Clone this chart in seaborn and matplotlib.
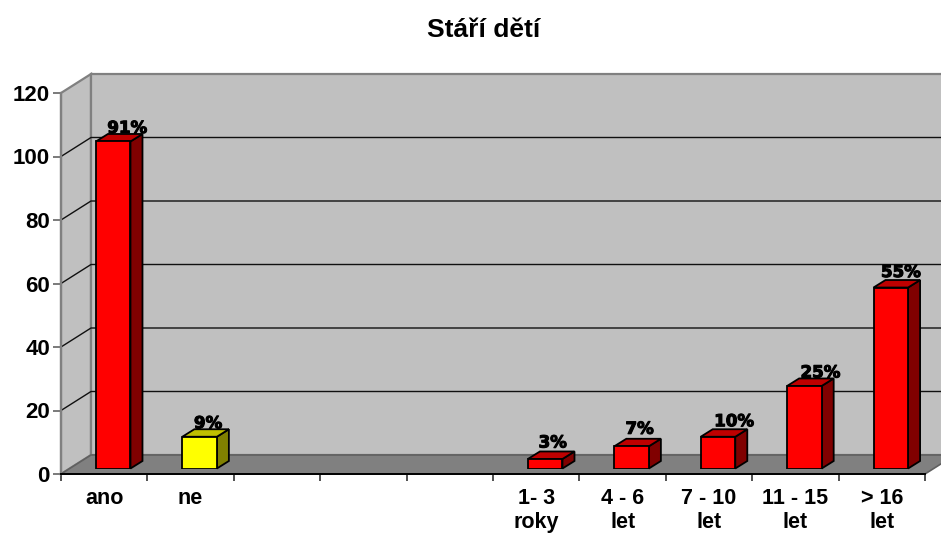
import matplotlib
matplotlib.use("Agg")
import matplotlib.pyplot as plt
import matplotlib.patheffects as pe
from matplotlib.patches import Polygon
import numpy as np
import pandas as pd
import seaborn as sns

# Survey answers; the three blank slots separate the yes/no pair from the age groups
categories = ["ano", "ne", " ", "  ", "   ", "1- 3\nroky", "4 - 6\nlet", "7 - 10\nlet", "11 - 15\nlet", "> 16\nlet"]
counts = [103, 10, np.nan, np.nan, np.nan, 3, 7, 10, 26, 57]
percent_labels = ["91%", "9%", "", "", "", "3%", "7%", "10%", "25%", "55%"]
bar_colors = ["#ff0000", "#ffff00", "#ff0000", "#ff0000", "#ff0000", "#ff0000", "#ff0000", "#ff0000", "#ff0000", "#ff0000"]
title_text = "Stáří dětí"
y_ticks = [0, 20, 40, 60, 80, 100, 120]

# Offsets of the percentage labels from the bar's top centre, in pixels
label_dx = [14, 8.5, 0, 0, 0, 7.5, 8, 16, 16, 10]
label_dy = [4.5, 4.5, 0, 0, 0, 7.5, 8.5, 6.5, 4.5, 6.5]

W, H = 941, 533
sns.set_theme(style="white")
plt.rcParams["font.family"] = ["Liberation Sans", "DejaVu Sans"]
plt.rcParams["font.weight"] = "bold"

fig = plt.figure(figsize=(W / 100, H / 100), dpi=100, facecolor="white")
left, right, y_zero, y_top = 61, 925, 474, 93
ax = fig.add_axes([left / W, (H - y_zero) / H, (right - left) / W, (y_zero - y_top) / H])
ax.set_xlim(-0.5, 9.5)
ax.set_ylim(0, 120)
ax.patch.set_alpha(0)

px_x = 10 / (right - left)
px_y = 120 / (y_zero - y_top)
wall_dx, wall_dy = 30 * px_x, 19 * px_y
x0, x1 = -0.5, 9.5

# Side wall, back wall and floor of the box
ax.add_patch(Polygon([(x0, 0), (x0 + wall_dx, wall_dy), (x0 + wall_dx, 120 + wall_dy), (x0, 120)],
                     fc="#c0c0c0", ec="#808080", lw=1.6, clip_on=False, zorder=1))
ax.add_patch(Polygon([(x0 + wall_dx, wall_dy), (x1 + wall_dx, wall_dy), (x1 + wall_dx, 120 + wall_dy), (x0 + wall_dx, 120 + wall_dy)],
                     fc="#c0c0c0", ec="#808080", lw=1.6, clip_on=False, zorder=1))
ax.add_patch(Polygon([(x0, 0), (x0 + wall_dx, wall_dy), (x1 + wall_dx, wall_dy), (x1, 0)],
                     fc="#808080", ec="#606060", lw=1.2, clip_on=False, zorder=1))

# Gridlines run across the side wall and along the back wall
for t in y_ticks[1:-1]:
    ax.plot([x0, x0 + wall_dx, x1 + wall_dx], [t, t + wall_dy, t + wall_dy],
            color="#101010", lw=1.0, clip_on=False, zorder=2)

ax.set_xticks(np.arange(0, 11) - 0.5)
ax.set_xticklabels([])
ax.set_yticks(y_ticks)
ax.tick_params(axis="y", left=True, length=6, width=1.3, color="#707070", pad=2, labelsize=16, labelcolor="black")
ax.tick_params(axis="x", bottom=True, length=5, width=1.1, color="#202020")
for name, spine in ax.spines.items():
    spine.set_visible(name in ("left", "bottom"))
    spine.set_zorder(3)
ax.spines["left"].set_color("#808080")
ax.spines["left"].set_linewidth(1.6)
ax.spines["bottom"].set_color("#000000")
ax.spines["bottom"].set_linewidth(1.4)

# Bars stand slightly inside the floor, so they get their own shifted axes
bar_shift_x, bar_shift_y = 9, 5.5
bar_ax = fig.add_axes([(left + bar_shift_x) / W, (H - y_zero + bar_shift_y) / H,
                       (right - left) / W, (y_zero - y_top) / H], zorder=5)
frame = pd.DataFrame({"category": categories, "count": counts})
sns.barplot(data=frame, x="category", y="count", hue="category", order=categories,
            palette=dict(zip(categories, bar_colors)), dodge=False, width=0.4, legend=False,
            saturation=1, edgecolor="black", linewidth=1.3, ax=bar_ax, zorder=6)
bar_ax.set_xlim(-0.5, 9.5)
bar_ax.set_ylim(0, 120)
bar_ax.axis("off")

depth_x, depth_y = 12 * px_x, 7.5 * px_y
for i, (value, label, color) in enumerate(zip(counts, percent_labels, bar_colors)):
    if np.isnan(value):
        continue
    half = 0.2
    rgb = np.array(matplotlib.colors.to_rgb(color))
    bar_ax.add_patch(Polygon([(i + half, 0), (i + half + depth_x, depth_y), (i + half + depth_x, value + depth_y), (i + half, value)],
                             fc=rgb * 0.5, ec="black", lw=1.3, clip_on=False, zorder=5))
    bar_ax.add_patch(Polygon([(i - half, value), (i - half + depth_x, value + depth_y), (i + half + depth_x, value + depth_y), (i + half, value)],
                             fc=rgb * 0.75, ec="black", lw=1.3, clip_on=False, zorder=5))
    bar_ax.annotate(label, (i, value), xytext=(label_dx[i], label_dy[i]), textcoords="offset pixels",
                    ha="center", va="bottom", fontsize=12, family=["DejaVu Sans"], fontweight="bold",
                    color="black", annotation_clip=False, zorder=8,
                    path_effects=[pe.withStroke(linewidth=0.8, foreground="black")])

# Category names sit under the tick marks, two lines where needed
for i, name in enumerate(categories):
    ax.annotate(name, (i, 0), xytext=(0, -10), textcoords="offset points", ha="center", va="top",
                fontsize=15.5, linespacing=1.2, color="black", annotation_clip=False)

fig.text(483.5 / W, 1 - 30 / H, title_text, ha="center", va="center", fontsize=19, color="black")
fig.savefig("out.png", dpi=100)
